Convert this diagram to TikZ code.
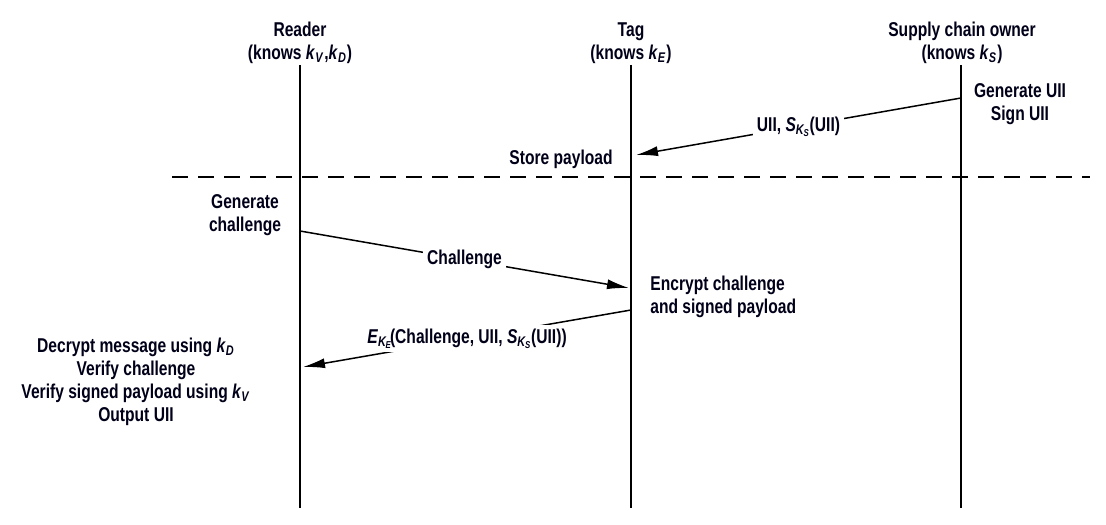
\documentclass[tikz,border=0pt]{standalone}
\usepackage{fontspec}
\setmainfont{Liberation Sans}[FakeStretch=0.78]
\usetikzlibrary{arrows.meta}
\newcommand{\kk}[1]{\textit{k}\textsubscript{\textit{#1}}}
\newcommand{\sig}{\textit{S}\textsubscript{\textit{K}\kern-0.5pt\textsubscript{\textit{S}}}\kern-0.5pt}
\newcommand{\enc}{\textit{E}\textsubscript{\textit{K}\kern-0.5pt\textsubscript{\textit{E}}}\kern-1.5pt}

\begin{document}
\begin{tikzpicture}[x=0.5pt,y=-0.5pt,line cap=butt,line join=miter,
  every node/.style={font=\bfseries\fontsize{10}{11.5}\selectfont,text=black!90!blue,inner sep=1pt},
  msg/.style={line width=0.75pt,-{Latex[length=11pt,width=5pt]}},
  lbl/.style={fill=white,inner sep=2pt}]
  \useasboundingbox (0,0) rectangle (1106,524);
  % lifelines
  \coordinate (R0) at (300,65);  \coordinate (R1) at (300,508);
  \coordinate (T0) at (631,65);  \coordinate (T1) at (631,508);
  \coordinate (S0) at (961,65);  \coordinate (S1) at (961,508);
  \draw[line width=0.6pt] (R0) -- (R1);
  \draw[line width=0.6pt] (T0) -- (T1);
  \draw[line width=0.6pt] (S0) -- (S1);
  \coordinate (D0) at (172,177); \coordinate (D1) at (1090,177);
  \draw[line width=0.6pt,dash pattern=on 8pt off 5pt] (D0) -- (D1);
  % headers
  \node[align=center] (reader) at (300,43) {Reader\\(knows \kk{V},\kk{D})};
  \node[align=center] (tag) at (631,43) {Tag\\(knows \kk{E})};
  \node[align=center] (owner) at (962,43) {Supply chain owner\\(knows \kk{S})};
  % phase 1
  \node[align=center] (gen) at (1020,104) {Generate UII\\Sign UII};
  \node[anchor=east] (store) at (615,159) {Store payload};
  \coordinate (m1a) at (961,98); \coordinate (m1b) at (636,155);
  \draw[msg] (m1a) -- node[lbl] (m1) {UII, \sig(UII)} (m1b);
  % phase 2
  \node[align=center] (chal) at (245,215) {Generate\\challenge};
  \coordinate (m2a) at (300,231); \coordinate (m2b) at (629,288);
  \draw[msg] (m2a) -- node[lbl] (m2) {Challenge} (m2b);
  \node[align=left,anchor=west] (encr) at (648,297) {Encrypt challenge\\and signed payload};
  \coordinate (m3a) at (631,310); \coordinate (m3b) at (303,367);
  \draw[msg] (m3a) -- node[lbl] (m3) {\enc(Challenge, UII, \sig(UII))} (m3b);
  \node[align=center] (verify) at (136,382) {Decrypt message using \kk{D}\\Verify challenge\\Verify signed payload using \kk{V}\\Output UII};
\end{tikzpicture}
\end{document}
